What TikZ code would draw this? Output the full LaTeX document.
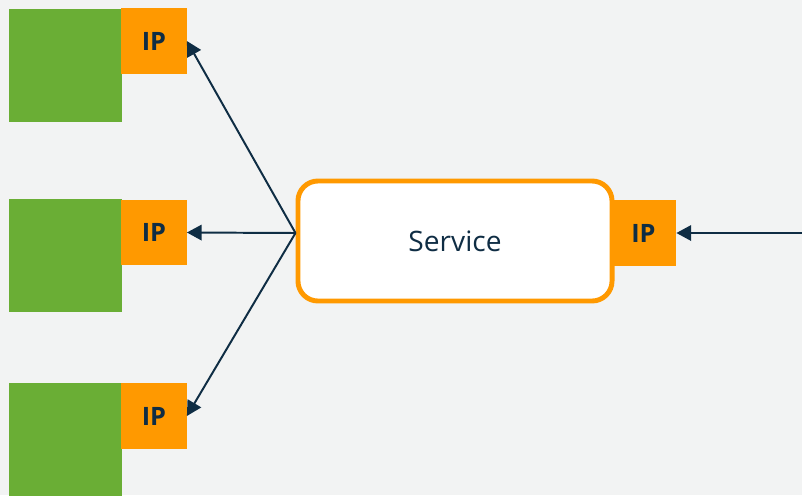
\documentclass[tikz,border=0pt]{standalone}
\usepackage{fontspec}
\setmainfont{Open Sans}
\usetikzlibrary{arrows.meta}

\definecolor{bg}{HTML}{F2F3F3}
\definecolor{hostgreen}{HTML}{6AAE35}
\definecolor{iporange}{HTML}{FF9900}
\definecolor{navy}{HTML}{0F2D44}

\tikzset{
  host/.style={fill=hostgreen, minimum size=2.84cm, inner sep=0pt},
  ipbox/.style={fill=iporange, minimum size=1.63cm, inner sep=0pt,
    text=navy, font=\fontsize{18}{20}\selectfont\bfseries},
  svc/.style={draw=iporange, fill=white, line width=3.5pt, rounded corners=0.5cm,
    minimum width=7.85cm, minimum height=3.0cm, text=navy,
    font=\fontsize{20}{22}\selectfont},
  link/.style={navy, line width=1.4pt, -{Triangle[length=10.5pt,width=11pt]}},
}

\begin{document}
\begin{tikzpicture}[x=0.025cm,y=-0.025cm]
\fill[bg] (0,0) rectangle (802,495);
\useasboundingbox (0,0) rectangle (802,495);

% hosts on the left
\draw (65.5,65.5)node[host](h1){};
\draw (65.5,255.5)node[host](h2){};
\draw (65.5,439.5)node[host](h3){};

\draw (154,41)node[ipbox](ip1){IP};
\draw (154,232.5)node[ipbox](ip2){IP};
\draw (154,416)node[ipbox](ip3){IP};

% the service and its own address
\draw (455,241)node[svc](svc){Service};
\draw (643.5,233)node[ipbox](sip){IP};
\coordinate (hub) at ([yshift=0.2cm]svc.west);
\coordinate (in) at (802,233);

\draw[link] (hub) -- (ip1.east);
\draw[link] (hub) -- (ip2.east);
\draw[link] (hub) -- (ip3.east);
\draw[link] (in) -- (sip.east);
\end{tikzpicture}
\end{document}
